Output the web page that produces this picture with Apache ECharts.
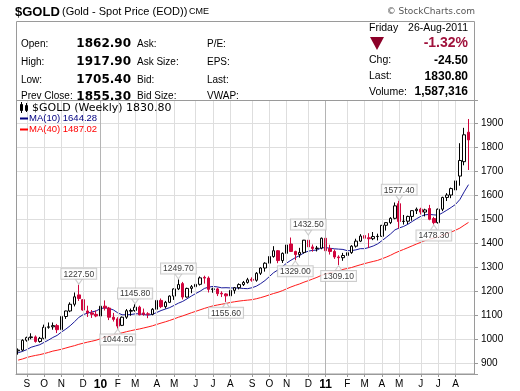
<!DOCTYPE html>
<html><head><meta charset="utf-8">
<script src="https://cdn.jsdelivr.net/npm/echarts@6/dist/echarts.min.js"></script>
<style>html,body{margin:0;padding:0;background:#fff}#c{width:520px;height:391px}</style>
</head><body><div id="c"></div>
<script>
// ---- data (weekly, first week ending 2009-08-28) ----
const firstWeek = '2009-08-28';
const opens = [952,955,996,1007,1010,991,1004,1050,1052,1057,1040,1095,1118,1146,1185,1165,1118,1110,1104,1097,
 1138,1130,1092,1085,1058,1092,1117,1120,1134,1110,1106,1104,1125,1162,1136,1154,1180,1210,1232,1176,
 1212,1219,1229,1258,1255,1208,1210,1192,1189,1181,1204,1215,1228,1237,1250,1246,1275,1297,1317,1345,
 1369,1328,1358,1397,1366,1353,1362,1413,1385,1378,1380,1421,1378,1366,1343,1340,1349,1361,1388,1409,
 1432,1423,1419,1428,1429,1475,1486,1504,1565,1491,1492,1512,1536,1542,1530,1545,1503,1486,1542,1591,
 1601,1622,1680,1740,1862.9];
const highs = [962,1000,1011,1025,1016,1010,1061,1070,1070,1064,1101,1119,1154,1195,1227.5,1167,1140,1122,1120,1140,
 1162,1135,1110,1092,1095,1126,1128,1145.8,1140,1128,1113,1130,1168,1170,1160,1183,1212,1249.7,1239,1215,
 1226,1252,1262,1265,1262,1215,1215,1200,1192,1210,1218,1233,1243,1256,1258,1280,1300,1321,1349,1388,
 1372,1362,1398,1424,1369,1381,1414,1432.5,1395,1389,1424,1424,1394,1374,1350,1360,1370,1392,1419,1438,
 1445,1442,1447,1440,1476,1487,1509,1570,1577.4,1518,1515,1537,1549,1548,1544,1560,1510,1545,1594,1609,
 1632,1684,1817,1881,1917.9];
const lows = [936,950,990,1000,986,986,1000,1044,1040,1026,1036,1085,1113,1137,1160,1119,1093,1089,1092,1092,
 1120,1080,1074,1044.5,1055,1085,1098,1115,1100,1098,1088,1100,1123,1130,1128,1151,1164,1205,1166,1174,
 1192,1216,1224,1232,1195,1194,1180,1176,1155.6,1176,1190,1208,1222,1232,1240,1240,1268,1282,1313,1340,
 1317,1318,1325,1364,1329,1340,1357,1377,1365,1366,1375,1362,1353,1335,1309.1,1327,1347,1356,1382,1405,
 1407,1380,1413,1412,1428,1453,1480,1500,1462,1478,1480,1494,1522,1520,1512,1496,1478.3,1482,1534,1576,
 1588,1610,1640,1725,1705.4];
const closes = [955,996,1007,1010,991,1004,1050,1052,1057,1040,1095,1118,1146,1177,1170,1122,1110,1104,1097,1138,
 1130,1092,1083,1055,1092,1119,1120,1134,1102,1104,1104,1125,1162,1136,1154,1180,1210,1228,1176,1212,
 1219,1229,1256,1255,1208,1210,1190,1189,1181,1204,1215,1228,1237,1248,1246,1275,1297,1317,1345,1369,
 1328,1358,1393,1366,1353,1362,1413,1385,1378,1380,1421,1369,1366,1343,1340,1349,1361,1388,1409,1430,
 1421,1419,1428,1429,1475,1486,1504,1556,1491,1492,1512,1536,1542,1530,1539,1500,1486,1542,1591,1601,
 1628,1660,1745,1852,1830.8];
const ma10 = [944.0,949.6,957.1,966.9,972.3,977.5,987.1,996.6,1007.5,1016.2,1030.2,1042.4,1056.3,1073.0,1090.9,1102.7,1108.7,1113.9,1117.9,1127.7,
 1131.2,1128.6,1122.3,1110.1,1102.3,1102.0,1103.0,1106.0,1106.5,1103.1,1100.5,1103.8,1111.7,1119.8,1126.0,1132.1,1141.1,1150.5,1157.9,1168.7,
 1180.2,1190.6,1200.0,1211.9,1217.3,1220.3,1218.3,1214.4,1214.9,1214.1,1213.7,1213.6,1211.7,1211.0,1214.8,1221.3,1232.0,1244.8,1261.2,1277.7,
 1289.0,1302.0,1317.6,1329.4,1340.1,1348.8,1360.4,1367.2,1370.5,1371.6,1380.9,1382.0,1379.3,1377.0,1375.7,1374.4,1369.2,1369.5,1372.6,1377.6,
 1377.6,1382.6,1388.8,1397.4,1410.9,1424.6,1438.9,1455.7,1463.9,1470.1,1479.2,1490.9,1502.3,1512.4,1518.8,1520.2,1518.4,1517.0,1527.0,1537.9,
 1549.5,1561.9,1582.2,1614.4,1644.3];
const ma40 = [913.3,917.9,924.2,928.9,932.8,936.1,940.4,945.3,950.8,954.4,958.5,963.6,968.8,973.4,979.1,983.6,988.1,991.9,996.2,1002.2,
 1008.4,1014.0,1018.3,1022.5,1026.9,1031.6,1035.7,1039.6,1043.0,1047.2,1051.5,1056.1,1061.9,1067.5,1072.9,1078.6,1085.0,1091.8,1097.5,1103.9,
 1110.5,1116.4,1122.6,1128.7,1134.1,1139.3,1142.8,1146.2,1149.3,1153.4,1156.4,1159.2,1161.4,1163.2,1165.1,1168.9,1173.6,1178.9,1185.1,1190.9,
 1195.9,1202.5,1210.3,1218.0,1224.6,1230.6,1238.0,1244.2,1251.1,1258.0,1266.0,1272.1,1277.2,1282.3,1287.0,1291.2,1295.0,1299.0,1304.8,1310.3,
 1315.3,1320.1,1324.4,1328.7,1335.4,1342.3,1350.1,1359.3,1367.1,1374.3,1381.7,1389.4,1397.0,1404.1,1411.4,1417.0,1421.7,1427.4,1433.5,1439.3,
 1446.8,1454.4,1463.2,1475.3,1487.0];
const pivotIdx = [14,23,27,37,48,64,67,74,88,96];
const pivotVal = [1227.5,1044.5,1145.8,1249.7,1155.6,1329.0,1432.5,1309.1,1577.4,1478.3];
const pivotSide = ['high','low','high','high','low','low','high','low','high','low'];
const monthLetters = ['J','F','M','A','M','J','J','A','S','O','N','D'];

// ---- header texts ----
const hdrLeftLabels = ['Open:','High:','Low:','Prev Close:'];
const hdrLeftValues = ['1862.90','1917.90','1705.40','1855.30'];
const hdrMidLabels = ['Ask:','Ask Size:','Bid:','Bid Size:'];
const hdrMid2Labels = ['P/E:','EPS:','Last:','VWAP:'];
const hdrRightLabels = ['Chg:','Last:','Volume:'];
const hdrRightValues = ['-24.50','1830.80','1,587,316'];
const legendTexts = ['$GOLD (Weekly) 1830.80','MA(10) 1644.28','MA(40) 1487.02'];

// ---- categories (week-ending dates) + one spare slot ----
const nWeeks = closes.length;
const t0 = Date.parse(firstWeek + 'T00:00:00Z');
const cats = [];
for (let i = 0; i <= nWeeks; i++) cats.push(new Date(t0 + i * 7 * 864e5).toISOString().slice(0, 10));
function mondayMonth(i) { const d = new Date(Date.parse(cats[i] + 'T00:00:00Z') - 4 * 864e5); return d.getUTCFullYear() * 12 + d.getUTCMonth(); }
const isMonthStart = cats.map((c, i) => i > 0 && i < nWeeks && mondayMonth(i) !== mondayMonth(i - 1));
function labelFor(i) { const mm = mondayMonth(i); const m = mm % 12; const y = Math.floor(mm / 12); return m === 0 ? '{y|' + String(y).slice(2) + '}' : monthLetters[m]; }

const candleData = closes.map((c, i) => [opens[i], c, lows[i], highs[i]]);
const monthLines = [];
cats.forEach((c, i) => { if (isMonthStart[i]) monthLines.push({ xAxis: i, lineStyle: { color: (mondayMonth(i) % 12 === 0) ? '#b4b4b4' : '#dedede', width: 1, type: 'solid' } }); });

const pivotData = pivotIdx.map((idx, k) => {
  const hi = pivotSide[k] === 'high';
  return {
    value: [idx, pivotVal[k]],
    symbolRotate: hi ? 180 : 0,
    symbolOffset: [0, hi ? -3 : 3],
    label: { position: hi ? 'top' : 'bottom', distance: 0 }
  };
});

const F = '"Liberation Sans", Arial, sans-serif';
const D = '"DejaVu Sans", Verdana, sans-serif';
function T(x, y, text, font, fill, align) {
  return { type: 'text', x: x, y: y, silent: true, z: 100,
    style: { text: text, font: font, fill: fill || '#000', textAlign: align || 'left', textVerticalAlign: 'middle' } };
}
const g = [];
g.push(T(15, 12, '$GOLD', 'bold 13px ' + F));
g.push(T(62, 12, '(Gold - Spot Price (EOD))', '11px ' + F));
g.push(T(189, 12, 'CME', '9px ' + F));
g.push(T(475, 12, '\u00a9 StockCharts.com', '9px ' + D, '#555', 'right'));
g.push({ type: 'rect', z: 100, silent: true, shape: { x: 16.5, y: 21.5, width: 458, height: 352.5 }, style: { fill: 'none', stroke: '#9a9a9a', lineWidth: 1 } });
g.push({ type: 'line', z: 100, silent: true, shape: { x1: 16, y1: 100.5, x2: 475, y2: 100.5 }, style: { stroke: '#9a9a9a', lineWidth: 1 } });
const rowY = [44, 62, 80, 96.5];
hdrLeftLabels.forEach((s, k) => {
  g.push(T(21, rowY[k], s, '10px ' + F));
  g.push(T(131, rowY[k], hdrLeftValues[k], 'bold 12px ' + D, '#000', 'right'));
  g.push(T(137, rowY[k], hdrMidLabels[k], '10px ' + F));
  g.push(T(207, rowY[k], hdrMid2Labels[k], '10px ' + F));
});
g.push(T(369, 28, 'Friday', '10.5px ' + F));
g.push(T(468, 28, '26-Aug-2011', '10.5px ' + F, '#000', 'right'));
g.push({ type: 'polygon', z: 100, silent: true, shape: { points: [[370, 37], [384, 37], [377, 50]] }, style: { fill: '#8c0028' } });
g.push(T(468, 43.5, '-1.32%', 'bold 14px ' + F, '#a0123c', 'right'));
const rY = [60.5, 76.5, 92];
hdrRightLabels.forEach((s, k) => {
  g.push(T(369, rY[k], s, '10.5px ' + F));
  g.push(T(468, rY[k], hdrRightValues[k], 'bold 12px ' + F, '#000', 'right'));
});
// legend inside plot
g.push({ type: 'rect', z: 100, silent: true, shape: { x: 20.5, y: 104.5, width: 2, height: 6 }, style: { fill: '#000', stroke: '#000', lineWidth: 1 } });
g.push({ type: 'rect', z: 100, silent: true, shape: { x: 25.5, y: 105.5, width: 2, height: 5 }, style: { fill: '#fff', stroke: '#000', lineWidth: 1 } });
g.push({ type: 'line', z: 100, silent: true, shape: { x1: 21.5, y1: 102, x2: 21.5, y2: 113 }, style: { stroke: '#000', lineWidth: 1 } });
g.push({ type: 'line', z: 100, silent: true, shape: { x1: 26.5, y1: 103, x2: 26.5, y2: 112 }, style: { stroke: '#000', lineWidth: 1 } });
g.push(T(32, 108, legendTexts[0], '11px ' + D));
g.push({ type: 'line', z: 100, silent: true, shape: { x1: 20, y1: 118.5, x2: 28, y2: 118.5 }, style: { stroke: '#000080', lineWidth: 2 } });
g.push(T(29, 118.5, legendTexts[1], '9.5px ' + F, '#000080'));
g.push({ type: 'line', z: 100, silent: true, shape: { x1: 20, y1: 129.5, x2: 28, y2: 129.5 }, style: { stroke: '#ff0000', lineWidth: 2 } });
g.push(T(29, 129.5, legendTexts[2], '9.5px ' + F, '#ff0000'));

const chart = echarts.init(document.getElementById('c'), null, { renderer: 'canvas' });
chart.setOption({
  animation: false,
  backgroundColor: '#fff',
  grid: { left: 16, right: 45, top: 100, bottom: 17, show: false },
  xAxis: {
    type: 'category', data: cats, boundaryGap: true,
    axisLine: { show: true, lineStyle: { color: '#9a9a9a' } },
    axisTick: { show: true, alignWithLabel: true, length: 3, interval: (i) => !!isMonthStart[i], lineStyle: { color: '#9a9a9a' } },
    axisLabel: { interval: (i) => !!isMonthStart[i], formatter: (v, i) => labelFor(i), margin: 5,
      fontFamily: F, fontSize: 10, color: '#000', rich: { y: { fontWeight: 'bold', fontSize: 12, fontFamily: F, color: '#000' } } },
    splitLine: { show: false }
  },
  yAxis: {
    type: 'value', position: 'right', min: 855.4, max: 1997, splitNumber: 11, minInterval: 100, maxInterval: 100,
    axisLine: { show: false },
    axisTick: { show: true, length: 3, lineStyle: { color: '#9a9a9a' } },
    axisLabel: { margin: 6, fontFamily: F, fontSize: 10, color: '#000', formatter: (v) => (Math.abs(v % 100) < 1e-6 ? String(v) : '') },
    splitLine: { show: true, lineStyle: { color: '#dedede', width: 1 } }
  },
  series: [
    { type: 'line', name: 'grid', data: cats.map(() => null), z: 1, silent: true, symbol: 'none',
      markLine: { silent: true, symbol: ['none', 'none'], label: { show: false }, animation: false, data: monthLines } },
    { type: 'line', name: 'MA(40)', data: ma40, z: 3, symbol: 'none', smooth: false, lineStyle: { color: '#ff1a1a', width: 1 } },
    { type: 'line', name: 'MA(10)', data: ma10, z: 3, symbol: 'none', smooth: false, lineStyle: { color: '#1a1a9a', width: 1 } },
    { type: 'candlestick', name: '$GOLD', data: candleData, z: 4, barWidth: 3,
      itemStyle: { color: '#ffffff', color0: '#d0043c', borderColor: '#000000', borderColor0: '#d0043c', borderWidth: 1 } },
    { type: 'scatter', name: 'pivots', data: pivotData, z: 5, symbol: 'triangle', symbolSize: [7, 5],
      itemStyle: { color: '#ffffff', borderColor: '#c0c0c0', borderWidth: 1 },
      label: { show: true, formatter: (p) => p.value[1].toFixed(2), backgroundColor: '#ffffff', borderColor: '#c0c0c0', borderWidth: 1,
        padding: [1, 2, 0, 2], fontFamily: F, fontSize: 8.5, color: '#000' } }
  ],
  graphic: g
});
</script>
</body></html>
